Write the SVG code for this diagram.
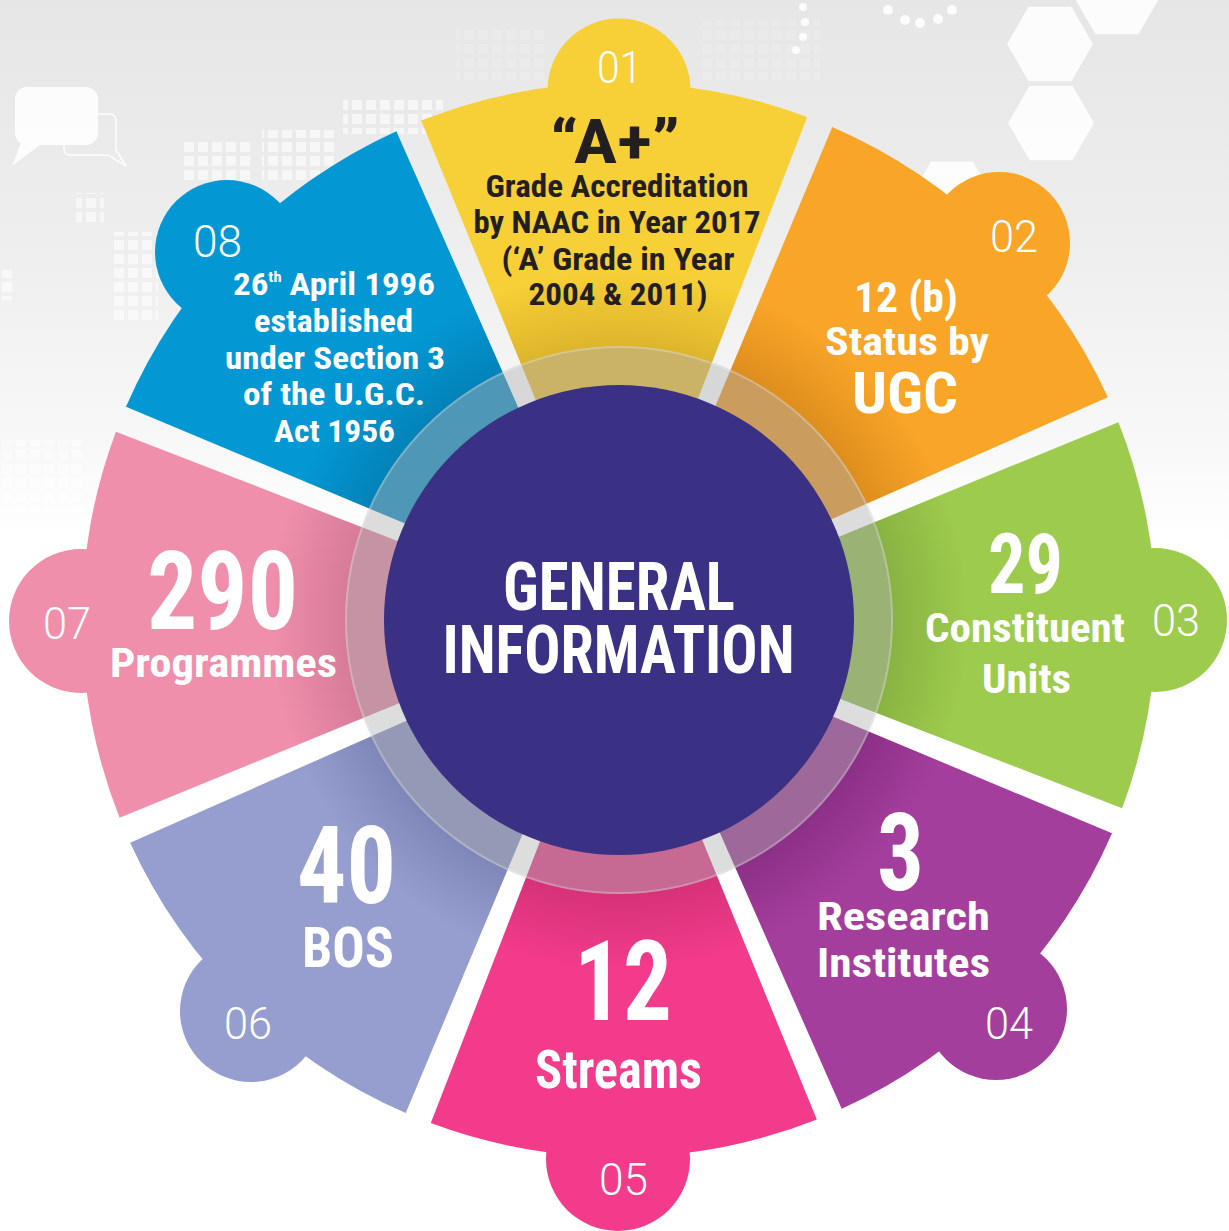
<svg xmlns="http://www.w3.org/2000/svg" width="1229" height="1231" viewBox="0 0 1229 1231">
<defs>
<style>
.b{font-family:"Liberation Sans Narrow","Roboto Condensed",Roboto,"Liberation Sans",sans-serif;font-weight:700;fill:#fff;text-anchor:middle}
.dk{fill:#231F20}
.n{font-family:Roboto,"Liberation Sans",sans-serif;font-weight:300;fill:#fff;text-anchor:middle;font-size:45px}
.deco{fill:#fff}
</style>
<linearGradient id="bg" x1="0" y1="0" x2="0" y2="1231" gradientUnits="userSpaceOnUse">
<stop offset="0" stop-color="#e6e6e6"/>
<stop offset="0.2" stop-color="#eeeeee"/>
<stop offset="0.36" stop-color="#f8f8f8"/>
<stop offset="0.44" stop-color="#ffffff"/>
</linearGradient>
<pattern id="sq" width="14" height="14" patternUnits="userSpaceOnUse"><rect x="2" y="2" width="10" height="10" fill="#fff"/></pattern>
<radialGradient id="gY" cx="619" cy="620" r="350" gradientUnits="userSpaceOnUse"><stop offset="0.78" stop-color="#DDB52C"/><stop offset="1" stop-color="#F7CF36"/></radialGradient>
<radialGradient id="gO" cx="619" cy="620" r="350" gradientUnits="userSpaceOnUse"><stop offset="0.78" stop-color="#DE8E1E"/><stop offset="1" stop-color="#F8A528"/></radialGradient>
<radialGradient id="gG" cx="619" cy="620" r="350" gradientUnits="userSpaceOnUse"><stop offset="0.78" stop-color="#88B342"/><stop offset="1" stop-color="#9DCB4D"/></radialGradient>
<radialGradient id="gP" cx="619" cy="620" r="350" gradientUnits="userSpaceOnUse"><stop offset="0.78" stop-color="#8C3087"/><stop offset="1" stop-color="#A43E9D"/></radialGradient>
<radialGradient id="gM" cx="619" cy="620" r="350" gradientUnits="userSpaceOnUse"><stop offset="0.78" stop-color="#D63279"/><stop offset="1" stop-color="#F33B8B"/></radialGradient>
<radialGradient id="gL" cx="619" cy="620" r="350" gradientUnits="userSpaceOnUse"><stop offset="0.78" stop-color="#7E87B7"/><stop offset="1" stop-color="#959ECF"/></radialGradient>
<radialGradient id="gK" cx="619" cy="620" r="350" gradientUnits="userSpaceOnUse"><stop offset="0.78" stop-color="#D77B98"/><stop offset="1" stop-color="#EF8FAC"/></radialGradient>
<radialGradient id="gB" cx="619" cy="620" r="350" gradientUnits="userSpaceOnUse"><stop offset="0.78" stop-color="#0383B8"/><stop offset="1" stop-color="#0398D4"/></radialGradient>
</defs>

<g id="background">
<rect x="0" y="0" width="1229" height="1231" fill="url(#bg)"/>
<g class="deco" opacity="0.9">
<polygon points="1007,44 1028.5,6.8 1071.5,6.8 1093,44 1071.5,81.2 1028.5,81.2"/>
<polygon points="1008,123 1029.5,85.8 1072.5,85.8 1094,123 1072.5,160.2 1029.5,160.2"/>
<polygon points="1074,-3 1095.5,-40 1138.5,-40 1160,-3 1138.5,34.2 1095.5,34.2"/>
<polygon points="910,198 931,161.6 973,161.6 994,198 973,234.4 931,234.4"/>
<circle cx="803" cy="7" r="4"/><circle cx="805" cy="22" r="4"/><circle cx="803" cy="37" r="4"/><circle cx="796" cy="50" r="4"/>
<circle cx="888" cy="10" r="5"/><circle cx="905" cy="20" r="5"/><circle cx="920" cy="23" r="5"/><circle cx="938" cy="19" r="5"/><circle cx="952" cy="10" r="5"/>
<rect x="15" y="87" width="83" height="58" rx="12"/>
<polygon points="22,140 12,166 40,145"/>
<path d="M98,114 L109,114 Q116,114 116,121 L116,150 L126,166 L108,155 L70,155 Q64,155 64,149 L64,145" fill="none" stroke="#fff" stroke-width="1.5"/>
</g>
<g opacity="0.6">
<rect x="180" y="140" width="70" height="42" fill="url(#sq)"/>
<rect x="262" y="130" width="74" height="50" fill="url(#sq)"/>
<rect x="343" y="98" width="100" height="36" fill="url(#sq)"/>
<rect x="76" y="193" width="28" height="30" fill="url(#sq)"/>
<rect x="112" y="232" width="46" height="90" fill="url(#sq)"/>
<rect x="0" y="270" width="14" height="30" fill="url(#sq)"/>
</g>
<rect x="0" y="440" width="84" height="72" fill="url(#sq)" opacity="0.4"/>
<rect x="456" y="30" width="90" height="50" fill="url(#sq)" opacity="0.15"/>
<rect x="700" y="20" width="120" height="60" fill="url(#sq)" opacity="0.12"/>
</g>

<g id="connectors"></g>

<g id="node-01">
<path d="M535.73,400.04 L421.17,120.58 A537.2,537.2 0 0 1 807.21,116.88 L698.03,398.49 L619,620 Z" fill="url(#gY)"/>
<circle cx="619" cy="90" r="71.5" fill="#F7CF36"/>
<text class="n" x="619.5" y="83" textLength="45" lengthAdjust="spacingAndGlyphs">01</text>
<text class="b dk" x="615" y="163" font-size="62" textLength="130" lengthAdjust="spacingAndGlyphs">“A+”</text>
<text class="b dk" x="617" y="197" font-size="32" textLength="263" lengthAdjust="spacingAndGlyphs">Grade Accreditation</text>
<text class="b dk" x="617" y="233" font-size="32" textLength="287" lengthAdjust="spacingAndGlyphs">by NAAC in Year 2017</text>
<text class="b dk" x="618" y="270" font-size="32" textLength="233" lengthAdjust="spacingAndGlyphs">(‘A’ Grade in Year</text>
<text class="b dk" x="618" y="305" font-size="32" textLength="179" lengthAdjust="spacingAndGlyphs">2004 &amp; 2011)</text>
</g>

<g id="node-02">
<path d="M715.65,405.59 L832.25,126.98 A537.2,537.2 0 0 1 1107.84,397.33 L831.52,519.25 L619,620 Z" fill="url(#gO)"/>
<circle cx="999" cy="243" r="71" fill="#F8A528"/>
<text class="n" x="1014" y="252" textLength="48" lengthAdjust="spacingAndGlyphs">02</text>
<text class="b" x="906" y="312" font-size="42" textLength="104" lengthAdjust="spacingAndGlyphs">12 (b)</text>
<text class="b" x="907" y="355" font-size="38" textLength="164" lengthAdjust="spacingAndGlyphs">Status by</text>
<text class="b" x="905" y="413" font-size="57" textLength="106" lengthAdjust="spacingAndGlyphs">UGC</text>
</g>

<g id="node-03">
<path d="M838.96,536.73 L1118.42,422.17 A537.2,537.2 0 0 1 1122.12,808.21 L840.51,699.03 L619,620 Z" fill="url(#gG)"/>
<circle cx="1155" cy="620" r="72" fill="#9DCB4D"/>
<text class="n" x="1176" y="636" textLength="48" lengthAdjust="spacingAndGlyphs">03</text>
<text class="b" x="1025.5" y="593" font-size="83" textLength="75" lengthAdjust="spacingAndGlyphs">29</text>
<text class="b" x="1025" y="642" font-size="40" textLength="200" lengthAdjust="spacingAndGlyphs">Constituent</text>
<text class="b" x="1026.5" y="693" font-size="40" textLength="89" lengthAdjust="spacingAndGlyphs">Units</text>
</g>

<g id="node-04">
<path d="M833.41,716.65 L1112.02,833.25 A537.2,537.2 0 0 1 841.67,1108.84 L719.75,832.52 L619,620 Z" fill="url(#gP)"/>
<circle cx="996" cy="1009" r="71" fill="#A43E9D"/>
<text class="n" x="1009" y="1039" textLength="48" lengthAdjust="spacingAndGlyphs">04</text>
<text class="b" x="900.5" y="890" font-size="108" textLength="47" lengthAdjust="spacingAndGlyphs">3</text>
<text class="b" x="903.5" y="930" font-size="39" textLength="173" lengthAdjust="spacingAndGlyphs">Research</text>
<text class="b" x="903.5" y="977" font-size="40" textLength="173" lengthAdjust="spacingAndGlyphs">Institutes</text>
</g>

<g id="node-05">
<path d="M702.27,839.96 L816.83,1119.42 A537.2,537.2 0 0 1 430.79,1123.12 L539.97,841.51 L619,620 Z" fill="url(#gM)"/>
<circle cx="618" cy="1159" r="72" fill="#F33B8B"/>
<text class="n" x="623.5" y="1195" textLength="49" lengthAdjust="spacingAndGlyphs">05</text>
<text class="b" x="623" y="1020" font-size="111" textLength="98" lengthAdjust="spacingAndGlyphs">12</text>
<text class="b" x="618.5" y="1088" font-size="53" textLength="167" lengthAdjust="spacingAndGlyphs">Streams</text>
</g>

<g id="node-06">
<path d="M522.35,834.41 L405.75,1113.02 A537.2,537.2 0 0 1 130.16,842.67 L406.48,720.75 L619,620 Z" fill="url(#gL)"/>
<circle cx="251" cy="1011" r="71" fill="#959ECF"/>
<text class="n" x="248" y="1039" textLength="48" lengthAdjust="spacingAndGlyphs">06</text>
<text class="b" x="346.5" y="903" font-size="108" textLength="99" lengthAdjust="spacingAndGlyphs">40</text>
<text class="b" x="348" y="967" font-size="56" textLength="92" lengthAdjust="spacingAndGlyphs">BOS</text>
</g>

<g id="node-07">
<path d="M399.04,703.27 L119.58,817.83 A537.2,537.2 0 0 1 115.88,431.79 L397.49,540.97 L619,620 Z" fill="url(#gK)"/>
<circle cx="81" cy="621" r="72" fill="#EF8FAC"/>
<text class="n" x="67" y="639" textLength="48" lengthAdjust="spacingAndGlyphs">07</text>
<text class="b" x="222.5" y="629" font-size="110" textLength="151" lengthAdjust="spacingAndGlyphs">290</text>
<text class="b" x="223.5" y="677" font-size="40" textLength="227" lengthAdjust="spacingAndGlyphs">Programmes</text>
</g>

<g id="node-08">
<path d="M404.59,523.35 L125.98,406.75 A537.2,537.2 0 0 1 396.33,131.16 L518.25,407.48 L619,620 Z" fill="url(#gB)"/>
<circle cx="227" cy="252" r="72" fill="#0398D4"/>
<text class="n" x="217.5" y="257" textLength="49" lengthAdjust="spacingAndGlyphs">08</text>
<text class="b" x="334" y="295" font-size="32" textLength="202" lengthAdjust="spacingAndGlyphs">26<tspan font-size="15" dy="-13">th</tspan><tspan dy="13"> April 1996</tspan></text>
<text class="b" x="333.5" y="332" font-size="32" textLength="159" lengthAdjust="spacingAndGlyphs">established</text>
<text class="b" x="335" y="369" font-size="32" textLength="220" lengthAdjust="spacingAndGlyphs">under Section 3</text>
<text class="b" x="334" y="405" font-size="32" textLength="182" lengthAdjust="spacingAndGlyphs">of the U.G.C.</text>
<text class="b" x="334.5" y="442" font-size="32" textLength="121" lengthAdjust="spacingAndGlyphs">Act 1956</text>
</g>

<g id="center">
<circle cx="619" cy="620" r="274" fill="rgb(177,177,180)" fill-opacity="0.44"/>
<circle cx="619" cy="620" r="273" fill="none" stroke="#fff" stroke-opacity="0.25" stroke-width="2"/>
<circle cx="619" cy="620" r="235" fill="#3A3184"/>
<text class="b" x="619" y="610" font-size="66" textLength="232" lengthAdjust="spacingAndGlyphs">GENERAL</text>
<text class="b" x="618.5" y="673" font-size="66" textLength="352" lengthAdjust="spacingAndGlyphs">INFORMATION</text>
</g>
</svg>
